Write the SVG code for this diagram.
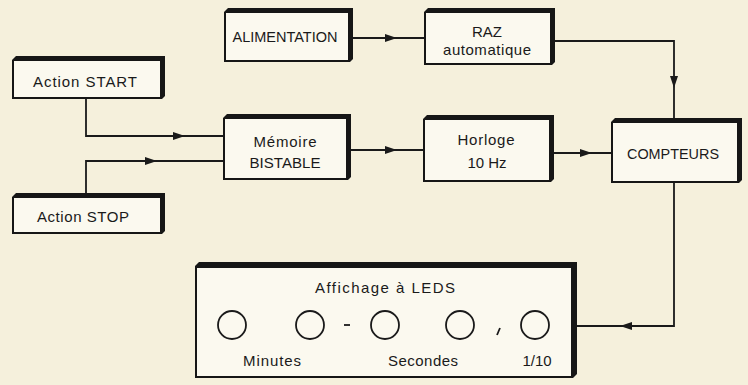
<svg xmlns="http://www.w3.org/2000/svg" xmlns:xlink="http://www.w3.org/1999/xlink" width="748" height="385" viewBox="0 0 748 385">
<style>
  .frame{fill:#161616}
  .face{fill:#fbf9ef}
  .t{font-family:"Liberation Sans","DejaVu Sans",sans-serif;font-size:15px;fill:#1a1a1a;text-anchor:middle}
  .wire{fill:none;stroke:#1a1a1a;stroke-width:1.8}
  .led{fill:none;stroke:#1a1a1a;stroke-width:1.8}
</style>
<defs>
  <path id="ah" d="M0,0 L-12,-4 L-12,4 Z" fill="#1a1a1a"/>
</defs>
<rect width="748" height="385" fill="#f5f0dc"/>

<g id="connectors">
  <path class="wire" d="M353,38 H424"/>
  <use xlink:href="#ah" transform="translate(397,38)"/>
  <path class="wire" d="M555,41 H674 V118"/>
  <use xlink:href="#ah" transform="translate(674,88) rotate(90)"/>
  <path class="wire" d="M86,99 V136 H223"/>
  <use xlink:href="#ah" transform="translate(185,136)"/>
  <path class="wire" d="M86,193 V161 H223"/>
  <use xlink:href="#ah" transform="translate(157,161)"/>
  <path class="wire" d="M351,150 H423"/>
  <use xlink:href="#ah" transform="translate(397,150)"/>
  <path class="wire" d="M554,153 H611"/>
  <use xlink:href="#ah" transform="translate(592,153)"/>
  <path class="wire" d="M674,183 V326 H577"/>
  <use xlink:href="#ah" transform="translate(620,326) rotate(180)"/>
</g>

<g id="alimentation">
  <polygon class="frame" points="224,12 228,8 353,8 353,59 350,62 224,62"/>
  <rect class="face" x="226" y="13" width="122" height="47"/>
  <text class="t" x="285" y="42" textLength="105" lengthAdjust="spacingAndGlyphs">ALIMENTATION</text>
</g>

<g id="raz">
  <polygon class="frame" points="424,12 428,8 555,8 555,62 552,65 424,65"/>
  <rect class="face" x="426" y="13" width="124" height="50"/>
  <text class="t" x="487" y="37">RAZ</text>
  <text class="t" x="487" y="55" textLength="88">automatique</text>
</g>

<g id="start">
  <polygon class="frame" points="12,60 16,56 165,56 165,96 162,99 12,99"/>
  <rect class="face" x="14" y="61" width="146" height="36"/>
  <text class="t" x="85" y="87" textLength="104">Action START</text>
</g>

<g id="stop">
  <polygon class="frame" points="12,197 16,193 165,193 165,231 162,234 12,234"/>
  <rect class="face" x="14" y="198" width="146" height="34"/>
  <text class="t" x="83" y="222" textLength="92">Action STOP</text>
</g>

<g id="memoire">
  <polygon class="frame" points="223,118 227,114 351,114 351,177 348,180 223,180"/>
  <rect class="face" x="225" y="119" width="121" height="59"/>
  <text class="t" x="285" y="147" textLength="63">Mémoire</text>
  <text class="t" x="285" y="168" textLength="71" lengthAdjust="spacingAndGlyphs">BISTABLE</text>
</g>

<g id="horloge">
  <polygon class="frame" points="423,119 427,115 554,115 554,179 551,182 423,182"/>
  <rect class="face" x="425" y="120" width="124" height="60"/>
  <text class="t" x="486" y="145" textLength="57">Horloge</text>
  <text class="t" x="487" y="168">10 Hz</text>
</g>

<g id="compteurs">
  <polygon class="frame" points="611,122 615,118 742,118 742,180 739,183 611,183"/>
  <rect class="face" x="613" y="123" width="124" height="58"/>
  <text class="t" x="673" y="159" textLength="92" lengthAdjust="spacingAndGlyphs">COMPTEURS</text>
</g>

<g id="affichage">
  <polygon class="frame" points="195,266 199,262 577,262 577,374 573,378 195,378"/>
  <rect class="face" x="197" y="268" width="374" height="108"/>
  <text class="t" x="385" y="293" textLength="140">Affichage à LEDS</text>
  <circle class="led" cx="232" cy="325" r="14"/>
  <circle class="led" cx="310" cy="325" r="14"/>
  <circle class="led" cx="385" cy="325" r="14"/>
  <circle class="led" cx="460" cy="325" r="14"/>
  <circle class="led" cx="535" cy="325" r="14"/>
  <path class="wire" d="M344,325 H350"/>
  <path class="wire" d="M500,328 L497,335"/>
  <text class="t" x="272" y="366" textLength="58">Minutes</text>
  <text class="t" x="423" y="366" textLength="70">Secondes</text>
  <text class="t" x="537" y="366">1/10</text>
</g>
</svg>
